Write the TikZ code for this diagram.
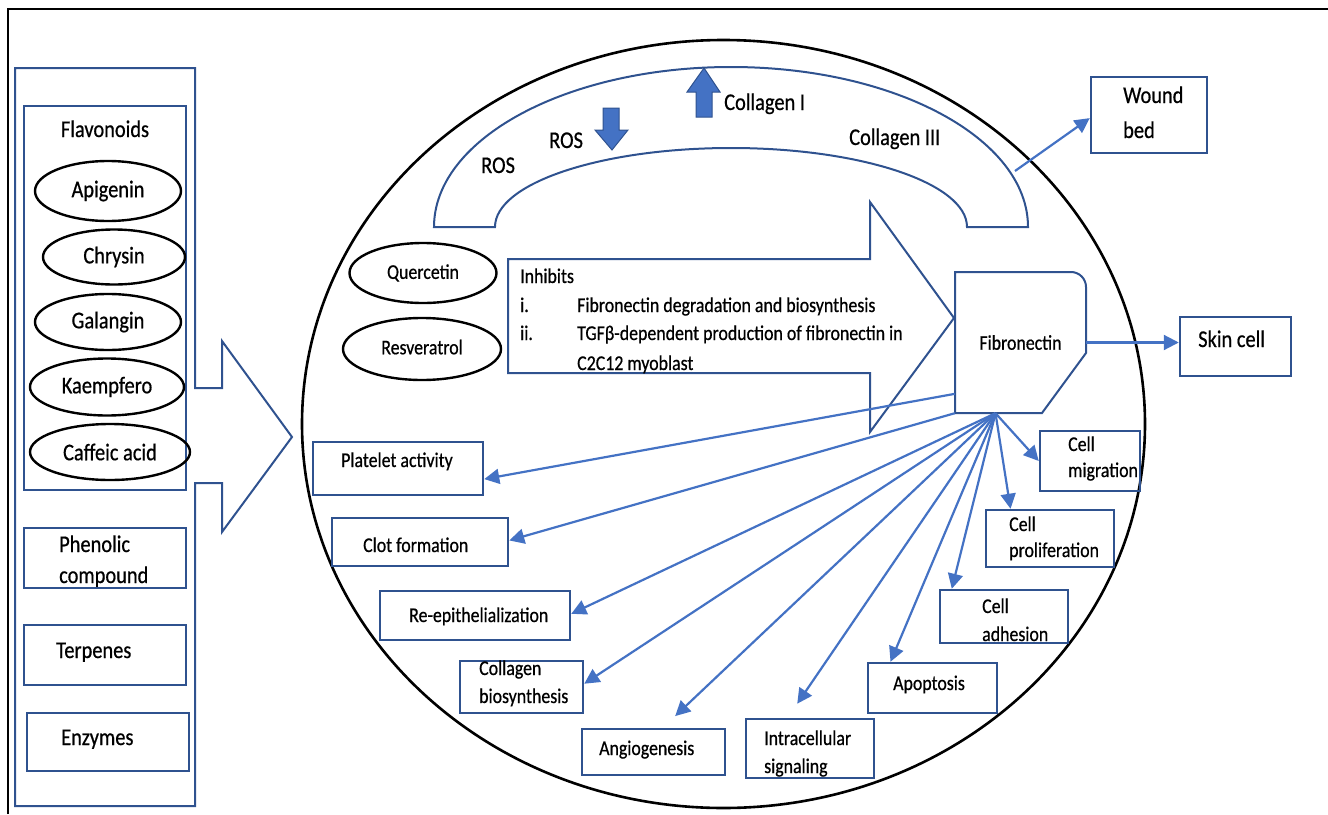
\documentclass[tikz,border=0pt]{standalone}
\usepackage{fontspec}
\setmainfont{Carlito}[FakeStretch=0.85,FakeBold=0.6]
\usetikzlibrary{arrows.meta,calc,shapes.geometric}

\definecolor{boxblue}{RGB}{47,82,143}
\definecolor{linkblue}{RGB}{68,114,196}

\begin{document}
\begin{tikzpicture}[x=1pt,y=-1pt,
  big/.style={font=\fontsize{24}{28}\selectfont},
  small/.style={font=\fontsize{21}{25}\selectfont},
  txt/.style={inner sep=0pt, anchor=base west},
  bluebox/.style={draw=boxblue, line width=2.5pt, inner sep=0pt},
  oval/.style={draw=black, ellipse, line width=2.4pt, inner sep=0pt},
  conn/.style={draw=linkblue, line width=2.2pt, -{Triangle[length=15pt,width=15pt]}},
  outline/.style={draw=boxblue, line width=2pt, line join=miter},
  blockarrow/.style={fill=linkblue, draw=boxblue, line width=1pt},
]
\useasboundingbox (0,0) rectangle (1328,814);

% page frame (top and left rules)
\draw[line width=2.5pt] (8,814) -- (8,9) -- (1328,9);

% large oval holding the wound-healing scheme
\draw[line width=2.6pt] (723.5,424) ellipse [x radius=421.5, y radius=384];

% ---------------- left column: sources ----------------
\draw[outline] (15,68) -- (195,68) -- (195,388) -- (222,388) -- (222,341)
  -- (292,437) -- (222,532) -- (222,483) -- (195,483) -- (195,806)
  -- (15,806) -- cycle;

\node[bluebox, minimum width=162pt, minimum height=384pt] (flavbox) at (105,298) {};
\node[big, inner sep=0pt, anchor=base] (tflav) at (105,137) {Flavonoids};

\node[oval, big, minimum width=146pt, minimum height=60pt] (api) at (108,191) {\raisebox{2pt}{Apigenin}};
\node[oval, big, minimum width=142pt, minimum height=55pt] (chr) at (114,257) {\raisebox{2pt}{Chrysin}};
\node[oval, big, minimum width=146pt, minimum height=56pt] (gal) at (108,322) {\raisebox{3pt}{Galangin}};
\node[oval, big, minimum width=154pt, minimum height=57pt] (kae) at (107,387) {Kaempfero};
\node[oval, big, minimum width=160pt, minimum height=56pt] (caf) at (110,452) {Caffeic acid};

\node[bluebox, minimum width=162pt, minimum height=60pt] (phen) at (105,558) {};
\node[big, txt] (tphen1) at (59,552) {Phenolic};
\node[big, txt] (tphen2) at (59,583) {compound};

\node[bluebox, minimum width=162pt, minimum height=60pt] (terp) at (105,655) {};
\node[big, txt] (tterp) at (56,658) {Terpenes};

\node[bluebox, minimum width=162pt, minimum height=58pt] (enz) at (108,742) {};
\node[big, txt] (tenz) at (61,745) {Enzymes};

% ---------------- collagen block arc ----------------
\draw[outline] (434,227) arc[start angle=180, end angle=360, x radius=297, y radius=160]
  -- (967,227) arc[start angle=0, end angle=-180, x radius=236, y radius=79] -- cycle;

% up arrow (collagen I) and down arrow (ROS)
\draw[blockarrow] (696,117) -- (696,92) -- (687,92) -- (704,68) -- (720,92)
  -- (712,92) -- (712,117) -- cycle;
\draw[blockarrow] (603,108) -- (619,108) -- (619,130) -- (628,130) -- (612,150)
  -- (595,130) -- (603,130) -- cycle;

\node[big, txt] (tcol1) at (724,110) {Collagen I};
\node[big, txt] (tcol3) at (849,145) {Collagen III};
\node[big, txt] (tros1) at (549,148) {ROS};
\node[big, txt] (tros2) at (481,173) {ROS};

% ---------------- inhibitors and their action ----------------
\node[oval, small, minimum width=147pt, minimum height=60pt] (que) at (423,273) {Quercetin};
\node[oval, small, minimum width=158pt, minimum height=62pt] (res) at (422,349) {\raisebox{4pt}{Resveratrol}};

\draw[outline] (508,259) -- (870,259) -- (870,202) -- (954,318) -- (870,432)
  -- (870,373) -- (508,373) -- cycle;
\node[small, txt] (tinh) at (520,283) {Inhibits};
\node[small, txt] (ti) at (520,312) {i.};
\node[small, txt] (ti2) at (577,312) {Fibronectin degradation and biosynthesis};
\node[small, txt] (tii) at (520,340) {ii.};
\node[small, txt] (tii2) at (577,340) {TGFβ-dependent production of fibronectin in};
\node[small, txt] (tii3) at (577,370) {C2C12 myoblast};

% ---------------- fibronectin ----------------
\draw[outline] (955,413) -- (955,272) -- (1071,272)
  arc[start angle=-90, end angle=0, radius=15] -- (1086,353) -- (1042,413) -- cycle;
\node[small, inner sep=0pt, minimum width=131pt, minimum height=141pt] (fib) at (1020.5,342.5) {Fibronectin};
\coordinate (fan) at ($(fib.south)+(-25,0)$);
\coordinate (arcR) at (1015,171);

% ---------------- outcome boxes ----------------
\node[bluebox, minimum width=111pt, minimum height=59pt] (skin) at (1235.5,346.5) {};
\node[big, txt] (tskin) at (1198,347) {Skin cell};

\node[bluebox, minimum width=116pt, minimum height=76pt] (wound) at (1149,115) {};
\node[big, txt] (twound1) at (1123,103) {Wound};
\node[big, txt] (twound2) at (1123,138) {bed};

\node[bluebox, minimum width=100pt, minimum height=60pt] (migr) at (1090,461) {};
\node[small, txt] (tmigr1) at (1068,451) {Cell};
\node[small, txt] (tmigr2) at (1068,477) {migration};

\node[bluebox, minimum width=128pt, minimum height=57pt] (prolif) at (1050,538.5) {};
\node[small, txt] (tprol1) at (1009,531) {Cell};
\node[small, txt] (tprol2) at (1009,557) {proliferation};

\node[bluebox, minimum width=128pt, minimum height=53pt] (adh) at (1004,616.5) {};
\node[small, txt] (tadh1) at (982,613) {Cell};
\node[small, txt] (tadh2) at (982,641) {adhesion};

\node[bluebox, minimum width=129pt, minimum height=50pt] (apop) at (932.5,688) {};
\node[small, txt] (tapop) at (893,690) {Apoptosis};

\node[bluebox, minimum width=170pt, minimum height=53pt] (plat) at (398,468.5) {};
\node[small, txt] (tplat) at (341,467) {Platelet activity};

\node[bluebox, minimum width=176pt, minimum height=48pt] (clot) at (420,542) {};
\node[small, txt] (tclot) at (363,552) {Clot formation};

\node[bluebox, minimum width=190pt, minimum height=49pt] (reep) at (475,615.5) {};
\node[small, txt] (treep) at (409,622) {Re-epithelialization};

\node[bluebox, minimum width=123pt, minimum height=52pt] (coll) at (521.5,687) {};
\node[small, txt] (tcoll1) at (479,675) {Collagen};
\node[small, txt] (tcoll2) at (479,703) {biosynthesis};

\node[bluebox, minimum width=143pt, minimum height=46pt] (angio) at (653.5,752) {};
\node[small, txt] (tangio) at (599,755) {Angiogenesis};

\node[bluebox, minimum width=128pt, minimum height=59pt] (intra) at (810,748.5) {};
\node[small, txt] (tintra1) at (764,745) {Intracellular};
\node[small, txt] (tintra2) at (764,773) {signaling};

% ---------------- connectors ----------------
\draw[conn] (arcR) -- (wound.-177);
\draw[conn] (fib.east) -- (fib.east -| skin.west);
\draw[conn] (fib.-142.4) -- (plat.-7.5);
\draw[conn] (fib.south west) -- (clot.1);
\draw[conn] (fan) -- (reep.1.5);
\draw[conn] (fan) -- (coll.3.5);
\draw[conn, shorten >=17pt] (fan) -- (angio.69.7);
\draw[conn, shorten >=17pt] (fan) -- (intra.126);
\draw[conn] (fan) -- (apop.148);
\draw[conn] (fan) -- (adh.152);
\draw[conn] (fan) -- (prolif.143);
\draw[conn] (fan) -- (migr.west);

\end{tikzpicture}
\end{document}
